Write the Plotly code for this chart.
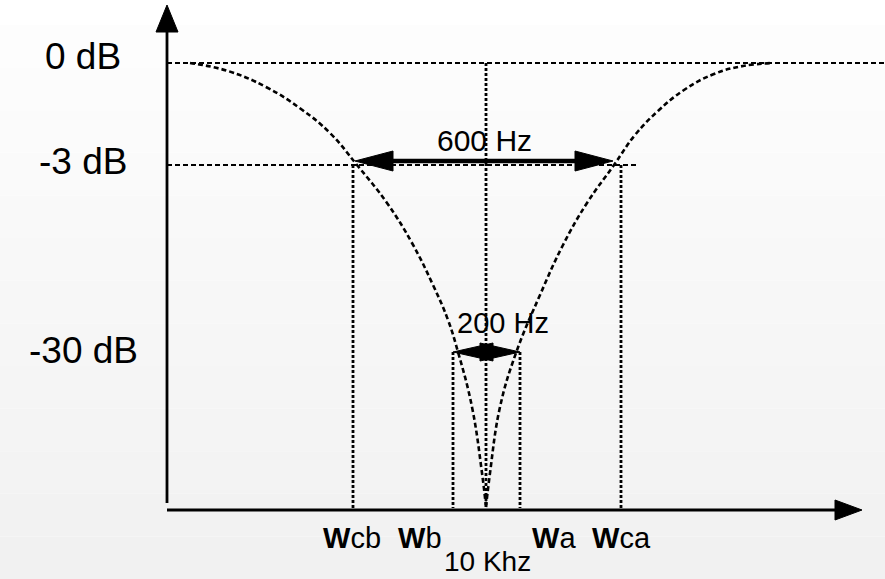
import plotly.graph_objects as go

# ---- schematic data (notch filter response around 10 kHz) ----
# horizontal positions are schematic frequency offsets from the notch centre
freq_labels = ["Wcb", "Wb", "Wa", "Wca"]
freq_pos = [-133, -33, 34, 135]
centre_label = "10 Khz"

# vertical positions are schematic attenuation levels
level_labels = ["0 dB", "-3 dB", "-30 dB"]
level_pos = [0, -102, -289]
notch_floor = -444

# response curve, left and right branches
left_x = [-296, -258, -220, -185, -156, -129, -99, -74, -53, -38, -28, -14, -4, 0]
left_y = [0, -8, -24, -46, -70, -102, -140, -180, -222, -257, -289, -344, -410, -444]
right_x = [0, 4, 14, 30, 54, 77, 101, 128, 149, 172, 198, 228, 257, 287]
right_y = [-444, -410, -344, -290, -232, -182, -140, -102, -72, -48, -27, -11, -3, 0]

# bandwidth markers: (label, left tip, right tip, level)
bw_3db = ("600 Hz", -131, 127, -98)
bw_30db = ("200 Hz", -33, 34, -289)

# ---- frame geometry ----
X_MIN, X_MAX = -486, 399
Y_MIN, Y_MAX = -516, 63
axis_x = -319
axis_y = -447

FONT = "Liberation Sans, Arial, sans-serif"
BLACK = "#000000"

fig = go.Figure()

# response curve
for xs, ys in ((left_x, left_y), (right_x, right_y)):
    fig.add_trace(go.Scatter(
        x=xs, y=ys, mode="lines",
        line=dict(color=BLACK, width=2.6, dash="5px,3px", shape="spline", smoothing=1.2),
        hoverinfo="skip", showlegend=False,
    ))

shapes = []

# background: soft vertical gradient built from bands
n_bands = 13
top_px, H = 25, 579
for i in range(n_bands):
    y_top = top_px + (H - top_px) * i / n_bands
    y_bot = top_px + (H - top_px) * (i + 1) / n_bands
    g = 253 - i
    shapes.append(dict(type="rect", xref="paper", yref="paper",
                       x0=0, x1=1, y0=1 - y_bot / H, y1=1 - y_top / H,
                       fillcolor=f"rgb({g},{g},{g})", line=dict(width=0), layer="below"))


def tri(tip_x, tip_y, dx, dy, length, half):
    """Filled arrow head pointing along (dx, dy)."""
    bx, by = tip_x - dx * length, tip_y - dy * length
    px, py = -dy * half, dx * half
    return dict(type="path", xref="x", yref="y",
                path=f"M {tip_x},{tip_y} L {bx + px},{by + py} L {bx - px},{by - py} Z",
                fillcolor=BLACK, line=dict(color=BLACK, width=1))


# level reference lines
hdash = dict(color=BLACK, width=2.2, dash="5px,3px")
shapes.append(dict(type="line", xref="x", yref="y", x0=axis_x, x1=X_MAX,
                   y0=level_pos[0], y1=level_pos[0], line=hdash))
shapes.append(dict(type="line", xref="x", yref="y", x0=axis_x, x1=152,
                   y0=level_pos[1], y1=level_pos[1], line=hdash))

# vertical markers
dot = dict(color=BLACK, width=2.8, dash="3px,2px")
shapes.append(dict(type="line", xref="x", yref="y", x0=0, x1=0,
                   y0=level_pos[0], y1=notch_floor + 2, line=dot))
for name, xp in zip(freq_labels, freq_pos):
    top = level_pos[1] if name in ("Wcb", "Wca") else level_pos[2]
    shapes.append(dict(type="line", xref="x", yref="y", x0=xp, x1=xp,
                       y0=top, y1=axis_y + 2, line=dot))

# axes with arrow heads
shapes.append(dict(type="line", xref="x", yref="y", x0=axis_x, x1=axis_x,
                   y0=axis_y + 7, y1=31, line=dict(color=BLACK, width=2.8)))
shapes.append(tri(axis_x, 58, 0, 1, 27, 11))
shapes.append(dict(type="line", xref="x", yref="y", x0=axis_x, x1=349,
                   y0=axis_y, y1=axis_y, line=dict(color=BLACK, width=2.8)))
shapes.append(tri(376, axis_y, 1, 0, 27, 10))

# bandwidth arrows
_, l3, r3, y3 = bw_3db
shapes.append(dict(type="line", xref="x", yref="y", x0=l3 + 30, x1=r3 - 30,
                   y0=y3, y1=y3, line=dict(color=BLACK, width=4.5)))
shapes.append(tri(l3, y3, -1, 0, 38, 10))
shapes.append(tri(r3, y3, 1, 0, 38, 10))

_, l30, r30, y30 = bw_30db
shapes.append(tri(l30, y30, -1, 0, 40, 9))
shapes.append(tri(r30, y30, 1, 0, 40, 9))

annotations = []
for lab, yp, dy in zip(level_labels, level_pos, (7, 4, 2)):
    annotations.append(dict(x=-403, y=yp + dy, xref="x", yref="y", text=lab,
                            showarrow=False, xanchor="center", yanchor="middle",
                            font=dict(family=FONT, size=37, color=BLACK)))

label_x = {"Wcb": -134, "Wb": -66, "Wa": 68, "Wca": 135}
for name in freq_labels:
    annotations.append(dict(x=label_x[name], y=axis_y - 28, xref="x", yref="y",
                            text=f"<b>W</b>{name[1:]}", showarrow=False,
                            xanchor="center", yanchor="middle",
                            font=dict(family=FONT, size=29, color=BLACK)))
annotations.append(dict(x=1, y=axis_y - 51, xref="x", yref="y", text=centre_label,
                        showarrow=False, xanchor="center", yanchor="middle",
                        borderpad=0,
                        font=dict(family=FONT, size=28, color=BLACK)))
annotations.append(dict(x=(l3 + r3) / 2, y=y3 + 21, xref="x", yref="y", text=bw_3db[0],
                        showarrow=False, xanchor="center", yanchor="middle",
                        font=dict(family=FONT, size=30, color=BLACK)))
annotations.append(dict(x=17, y=y30 + 29, xref="x", yref="y", text=bw_30db[0],
                        showarrow=False, xanchor="center", yanchor="middle",
                        font=dict(family=FONT, size=29, color=BLACK)))

fig.update_layout(
    width=885, height=579,
    margin=dict(l=0, r=0, t=0, b=0),
    paper_bgcolor="white",
    plot_bgcolor="rgba(0,0,0,0)",
    xaxis=dict(range=[X_MIN, X_MAX], visible=False, fixedrange=True),
    yaxis=dict(range=[Y_MIN, Y_MAX], visible=False, fixedrange=True),
    shapes=shapes,
    annotations=annotations,
    showlegend=False,
)

fig.write_html("out.html", config={"displayModeBar": False})
